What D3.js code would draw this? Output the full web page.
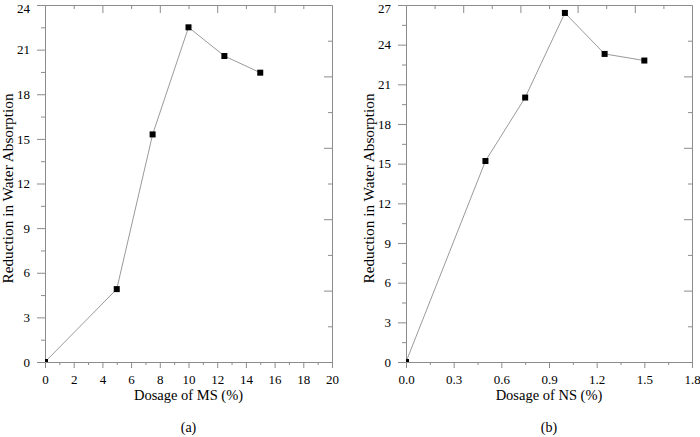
<!DOCTYPE html>
<html><head><meta charset="utf-8">
<script src="https://cdn.jsdelivr.net/npm/d3@7"></script>
<style>body{margin:0;background:#fff}svg{display:block}
svg text{font-family:"Liberation Serif","Times New Roman","DejaVu Serif",serif !important;}</style>
</head><body>
<svg id="c" width="700" height="437"></svg>
<script>
// Panel (a)
const msDosage = [0, 5, 7.5, 10, 12.5, 15];
const msReduction = [0, 4.9, 15.3, 22.5, 20.57, 19.45];
const msXTicks = [0, 2, 4, 6, 8, 10, 12, 14, 16, 18, 20];
const msYTicks = [0, 3, 6, 9, 12, 15, 18, 21, 24];
// Panel (b)
const nsDosage = [0, 0.5, 0.75, 1.0, 1.25, 1.5];
const nsReduction = [0, 15.2, 20.0, 26.4, 23.3, 22.8];
const nsXTicks = [0, 0.3, 0.6, 0.9, 1.2, 1.5, 1.8];
const nsYTicks = [0, 3, 6, 9, 12, 15, 18, 21, 24, 27];

const svg = d3.select("#c");
const AX = "#8c8c8c";

function panel(cfg){
  const {x0,x1,y0,y1,xDom,yDom,xTicks,yTicks,xs,ys,xFmt,xTitle,label,id,titleX} = cfg;
  const x = d3.scaleLinear().domain(xDom).range([x0,x1]);
  const y = d3.scaleLinear().domain(yDom).range([y1,y0]);
  const g = svg.append("g");
  const xMinor = d3.range(xTicks.length-1).map(i => (xTicks[i]+xTicks[i+1])/2);
  const yMinor = d3.range(yTicks.length-1).map(i => (yTicks[i]+yTicks[i+1])/2);
  const tenX = d3.range(1,10).map(i => xDom[0] + (xDom[1]-xDom[0])*i/10);
  const tenY = d3.range(1,10).map(i => yDom[0] + (yDom[1]-yDom[0])*i/10);

  g.append("g").attr("transform",`translate(0,${y1})`)
    .call(d3.axisBottom(x).tickValues(xTicks).tickSize(6).tickPadding(7).tickFormat(xFmt));
  g.append("g").attr("transform",`translate(0,${y1})`)
    .call(d3.axisBottom(x).tickValues(xMinor).tickSize(3).tickFormat(""))
    .call(s=>s.select(".domain").remove());
  g.append("g").attr("transform",`translate(${x0},0)`)
    .call(d3.axisLeft(y).tickValues(yTicks).tickSize(8).tickPadding(7).tickFormat(d3.format("d")))
    .call(s=>s.selectAll(".tick text").filter(d=>d===yDom[1]).attr("dy","0.55em"));
  g.append("g").attr("transform",`translate(${x0},0)`)
    .call(d3.axisLeft(y).tickValues(yMinor).tickSize(4).tickFormat(""))
    .call(s=>s.select(".domain").remove());
  g.append("g").attr("transform",`translate(0,${y0})`)
    .call(d3.axisTop(x).tickValues(tenX).tickSize(0).tickFormat(""))
    .call(s=>s.selectAll(".tick line").attr("y2",(d,i)=> (i%2===1)?8:4));
  g.append("g").attr("transform",`translate(${x1},0)`)
    .call(d3.axisRight(y).tickValues(tenY).tickSize(0).tickFormat(""))
    .call(s=>s.selectAll(".tick line").attr("x2",(d,i)=> (i%2===1)?-8:-4));

  g.selectAll(".domain").attr("stroke",AX).attr("stroke-width",1);
  g.selectAll(".tick line").attr("stroke",AX).attr("stroke-width",1);
  g.selectAll(".tick text").attr("font-size",13).attr("fill","#000");

  svg.append("clipPath").attr("id",id).append("rect")
    .attr("x",x0).attr("y",y0).attr("width",x1-x0).attr("height",y1-y0);
  const pts = xs.map((v,i)=>[v,ys[i]]);
  const pg = g.append("g").attr("clip-path",`url(#${id})`);
  pg.append("path").datum(pts)
    .attr("d", d3.line().x(d=>x(d[0])).y(d=>y(d[1])))
    .attr("fill","none").attr("stroke","#9a9a9a").attr("stroke-width",1);
  pg.selectAll("rect.m").data(pts).join("rect").attr("class","m")
    .attr("x",d=>x(d[0])-3).attr("y",d=>y(d[1])-3)
    .attr("width",6).attr("height",6).attr("fill","#000");

  g.append("text").attr("x",(x0+x1)/2).attr("y",y1+38).attr("text-anchor","middle")
    .attr("font-size",14.5).text(xTitle);
  g.append("text").attr("transform",`translate(${titleX},${(y0+y1)/2+5}) rotate(-90)`)
    .attr("text-anchor","middle").attr("dy","0.35em")
    .attr("font-size",15.3).text("Reduction in Water Absorption");
  g.append("text").attr("x",(x0+x1)/2).attr("y",y1+70).attr("text-anchor","middle")
    .attr("font-size",14).text(label);
}

panel({x0:45,x1:332,y0:5,y1:362,xDom:[0,20],yDom:[0,24],xTicks:msXTicks,yTicks:msYTicks,
  xs:msDosage,ys:msReduction,xFmt:d3.format("d"),xTitle:"Dosage of MS (%)",label:"(a)",id:"ca",titleX:8});
panel({x0:406,x1:692,y0:5,y1:362,xDom:[0,1.8],yDom:[0,27],xTicks:nsXTicks,yTicks:nsYTicks,
  xs:nsDosage,ys:nsReduction,xFmt:d3.format(".1f"),xTitle:"Dosage of NS (%)",label:"(b)",id:"cb",titleX:369});
</script>
</body></html>
